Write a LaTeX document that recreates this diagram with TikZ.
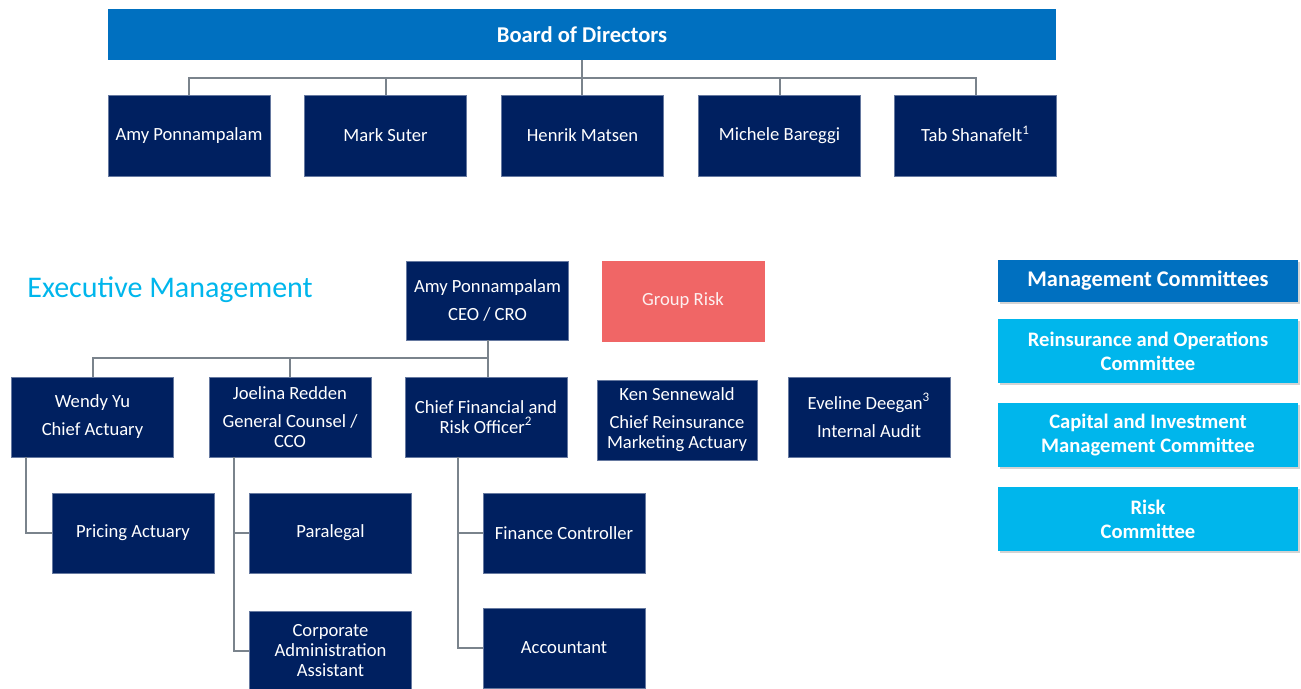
\documentclass[tikz,border=0pt]{standalone}
\usepackage{fontspec}
\setmainfont{Carlito}
\usepackage{xcolor}
\usepackage{tikz}
\usetikzlibrary{positioning,shadows}
\definecolor{navy}{HTML}{002060}
\definecolor{boardblue}{HTML}{0070C0}
\definecolor{skyblue}{HTML}{00B6EC}
\definecolor{salmon}{HTML}{F06666}
\definecolor{linegray}{HTML}{7A838C}
\tikzstyle{line}=[draw=linegray,line width=1pt]
\tikzstyle{person}=[fill=navy,draw=navy!60!white,line width=0.3pt,text=white,inner sep=0pt,align=center,minimum width=81pt,minimum height=40pt,font=\fontsize{9.3}{10}\selectfont]
\tikzstyle{committee}=[fill=skyblue,text=white,inner sep=0pt,align=center,minimum width=150pt,minimum height=32pt,font=\fontsize{10.3}{12}\selectfont\bfseries,drop shadow={shadow xshift=1.2pt,shadow yshift=-1.2pt,opacity=0.35}]
\newcommand{\supnote}[1]{\smash{\textsuperscript{#1}}}

\begin{document}
\begin{tikzpicture}[x=0.5pt,y=-0.5pt]
\useasboundingbox (0,0) rectangle (1301,689);
% board
\node[fill=boardblue,text=white,inner sep=0pt,minimum width=474pt,minimum height=25.5pt,font=\fontsize{11.3}{13}\selectfont\bfseries](board) at (582,34.5) {Board of Directors};
\node[person,minimum height=40.5pt](dir1) at (189,135.5) {Amy Ponnampalam};
\node[person,minimum height=40.5pt](dir2) at (385.5,135.5) {Mark Suter};
\node[person,minimum height=40.5pt](dir3) at (582.5,135.5) {Henrik Matsen};
\node[person,minimum height=40.5pt](dir4) at (779.5,135.5) {Michele Bareggi};
\node[person,minimum height=40.5pt](dir5) at (975.5,135.5) {Tab Shanafelt\supnote{1}};
\coordinate (bus) at (582,78);
\draw [line] (board.south)--(board.south |- dir3.north);
\draw [line] (dir1.north) |- (bus) -| (dir5.north);
\draw [line] (dir2.north)--(dir2.north |- bus);
\draw [line] (dir4.north)--(dir4.north |- bus);
% executive management
\node[anchor=west,text=skyblue,inner sep=0pt,font=\fontsize{15}{16}\selectfont](title) at (27,290) {Executive Management};
\node[person,minimum height=39.5pt](ceo) at (487.5,300.5) {Amy Ponnampalam\\[4pt]CEO / CRO};
\node[person,fill=salmon,draw=salmon,text=white!90!salmon](grouprisk) at (683,301) {Group Risk};
\node[person](wendy) at (92.5,417) {Wendy Yu\\[4pt]Chief Actuary};
\node[person](joelina) at (290,417) {Joelina Redden\\[4pt]General Counsel /\\CCO};
\node[person](cfo) at (486,417) {Chief Financial and\\Risk Officer\supnote{2}};
\node[person,minimum width=80pt](ken) at (677,420) {Ken Sennewald\\[4pt]Chief Reinsurance\\Marketing Actuary};
\node[person](eveline) at (869,417) {Eveline Deegan\supnote{3}\\[4pt]Internal Audit};
\node[person](pricing) at (133,533) {Pricing Actuary};
\node[person](paralegal) at (330.5,533) {Paralegal};
\node[person](corpadmin) at (330.5,651) {Corporate\\Administration\\Assistant};
\node[person](finctrl) at (564,533) {Finance Controller};
\node[person](accountant) at (564,648) {Accountant};
\coordinate (ebus) at (487.5,358);
\draw [line] (ceo.south)--(ceo.south |- cfo.north);
\draw [line] (wendy.north) |- (ebus);
\draw [line] (joelina.north)--(joelina.north |- ebus);
\draw [line] ([xshift=7.5pt]wendy.south west) |- (pricing.west);
\draw [line] ([xshift=12.5pt]joelina.south west) |- (corpadmin.west);
\draw [line] (paralegal.west)--++(-15,0);
\draw [line] ([xshift=26.5pt]cfo.south west) |- (accountant.west);
\draw [line] (finctrl.west)--++(-25,0);
% management committees
\node[committee,fill=boardblue,minimum height=21pt,font=\fontsize{11.2}{13}\selectfont\bfseries](mgmt) at (1148,281) {Management Committees};
\node[committee](reins) at (1148,351) {Reinsurance and Operations\\Committee};
\node[committee](capital) at (1148,435) {Capital and Investment\\Management Committee};
\node[committee](riskc) at (1148,519) {Risk\\Committee};
\end{tikzpicture}
\end{document}
